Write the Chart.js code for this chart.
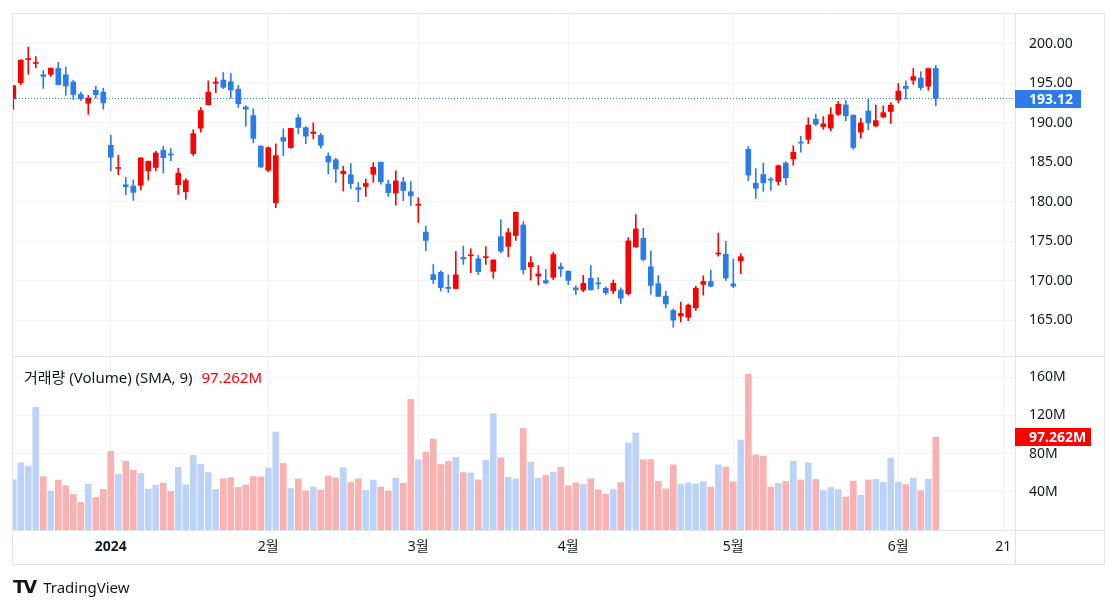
<!DOCTYPE html>
<html>
<head>
<meta charset="utf-8">
<script src="https://cdn.jsdelivr.net/npm/chart.js@4.4.1/dist/chart.umd.min.js"></script>
<style>
  html, body { margin: 0; padding: 0; background: #fff; width: 1118px; height: 609px; overflow: hidden; }
  #wrap { position: relative; width: 1118px; height: 609px; font-family: "Noto Sans", "Noto Sans CJK KR", sans-serif; color: #131722; }
  #priceCanvas { position: absolute; left: 0; top: 0; }
  #volCanvas { position: absolute; left: 0; top: 356px; }
  #legend { position: absolute; left: 24px; top: 367px; font-size: 15px; line-height: 20px; white-space: nowrap; }
  #legend .val { color: #ff0000; margin-left: 9px; }
  #logo { position: absolute; left: 13px; top: 576px; white-space: nowrap; line-height: 22px; }
  #logo .mark { font-family: "DejaVu Sans", sans-serif; font-weight: 900; font-size: 18px; letter-spacing: -2px; }
  #logo .name { font-size: 15px; margin-left: 8px; }
</style>
</head>
<body>
<div id="wrap">
  <canvas id="priceCanvas" width="1118" height="357"></canvas>
  <canvas id="volCanvas" width="1118" height="253"></canvas>
  <div id="legend">거래량 (Volume) (SMA, 9)<span class="val">97.262M</span></div>
  <div id="logo"><span class="mark">TV</span><span class="name">TradingView</span></div>
</div>
<script>
// daily bars, 2023-12-12 .. 2024-06-10
const dates = [
  '12-12','12-13','12-14','12-15','12-18','12-19','12-20','12-21','12-22','12-26','12-27','12-28','12-29',
  '01-02','01-03','01-04','01-05','01-08','01-09','01-10','01-11','01-12','01-16','01-17','01-18','01-19',
  '01-22','01-23','01-24','01-25','01-26','01-29','01-30','01-31',
  '02-01','02-02','02-05','02-06','02-07','02-08','02-09','02-12','02-13','02-14','02-15','02-16',
  '02-20','02-21','02-22','02-23','02-26','02-27','02-28','02-29',
  '03-01','03-04','03-05','03-06','03-07','03-08','03-11','03-12','03-13','03-14','03-15',
  '03-18','03-19','03-20','03-21','03-22','03-25','03-26','03-27','03-28',
  '04-01','04-02','04-03','04-04','04-05','04-08','04-09','04-10','04-11','04-12',
  '04-15','04-16','04-17','04-18','04-19','04-22','04-23','04-24','04-25','04-26','04-29','04-30',
  '05-01','05-02','05-03','05-06','05-07','05-08','05-09','05-10','05-13','05-14','05-15','05-16','05-17',
  '05-20','05-21','05-22','05-23','05-24','05-28','05-29','05-30','05-31',
  '06-03','06-04','06-05','06-06','06-07','06-10'
];
const openP = [
  193.08,195.09,198.02,197.53,196.09,196.16,196.90,196.10,195.18,193.61,192.49,194.14,193.90,
  187.15,184.22,182.15,181.99,182.09,183.92,184.35,186.54,186.06,182.16,181.27,186.09,189.33,
  192.30,195.02,195.42,195.22,194.27,192.01,190.94,187.04,
  183.99,179.86,188.15,186.86,190.64,189.39,188.65,188.42,185.77,185.32,183.55,183.42,
  181.79,181.94,183.48,185.01,182.24,181.10,182.51,181.27,
  179.55,176.15,170.76,171.06,169.15,169.00,172.94,173.15,172.77,172.91,171.17,
  175.57,174.34,175.72,177.05,171.76,170.57,170.00,170.41,171.75,
  171.19,169.08,168.79,170.29,169.59,169.03,168.70,168.80,168.34,174.26,
  175.36,171.75,169.61,168.03,166.21,165.52,165.35,166.54,169.53,169.88,173.37,173.33,
  169.58,172.51,186.65,182.35,183.45,182.85,182.56,184.90,185.44,187.51,187.91,190.47,189.51,
  189.33,191.09,192.27,190.98,188.82,191.51,189.61,190.76,191.44,
  192.90,194.64,195.40,195.69,194.65,196.90
];
const highP = [
  194.72,198.00,199.62,198.40,196.63,196.95,197.68,197.08,195.41,193.89,193.50,194.66,194.40,
  188.44,185.88,183.09,182.76,185.60,185.15,186.40,187.05,186.74,184.26,182.93,189.14,191.95,
  195.33,195.75,196.38,196.27,194.76,192.20,191.80,187.10,
  186.95,187.33,189.25,189.31,191.05,189.54,189.99,188.67,186.21,185.53,184.49,184.85,
  182.43,182.89,184.96,185.04,182.76,183.92,183.12,182.57,
  180.53,176.90,172.04,171.24,170.73,173.70,174.38,174.03,173.19,174.31,172.62,
  177.71,176.61,178.67,177.49,173.05,171.94,171.42,173.60,172.23,
  171.25,169.34,170.68,171.92,170.39,169.20,170.08,169.09,175.46,178.36,
  176.63,173.76,170.65,168.64,166.40,167.26,167.05,169.30,170.61,171.34,176.03,174.99,
  172.71,173.42,187.00,184.20,184.90,183.07,184.66,185.09,187.10,188.30,190.65,191.10,190.81,
  191.92,192.73,192.82,191.00,190.58,193.00,192.25,192.18,192.57,
  194.99,195.32,196.90,196.50,196.94,197.30
];
const lowP = [
  191.72,194.85,196.16,197.00,194.39,195.89,194.83,193.50,192.97,192.83,191.09,193.17,191.73,
  183.89,183.43,180.88,180.17,181.50,182.73,183.92,183.62,185.19,180.93,180.30,185.83,188.82,
  192.26,193.83,194.34,193.11,191.94,189.58,187.47,184.35,
  183.82,179.25,185.84,186.77,188.61,187.35,188.00,186.79,183.51,182.44,181.35,181.67,
  180.00,180.66,182.46,182.23,180.65,179.56,180.13,179.53,
  177.38,173.79,169.62,168.68,168.49,168.94,172.05,171.01,170.76,172.05,170.29,
  173.52,173.03,175.09,170.84,170.06,169.45,169.58,170.11,170.51,
  169.48,168.23,168.58,168.82,168.95,168.24,168.35,167.11,168.16,174.21,
  172.50,168.27,168.00,166.55,164.08,164.77,164.92,166.21,168.15,169.18,173.10,170.00,
  169.11,170.89,182.66,180.42,181.32,181.45,182.11,182.13,184.62,186.29,187.37,189.66,189.18,
  189.01,190.92,190.27,186.63,188.04,189.10,189.51,190.63,189.91,
  192.52,193.03,194.87,194.17,194.14,192.15
];
const closeP = [
  194.71,197.96,198.11,197.57,195.89,196.94,194.83,194.68,193.60,193.05,193.15,193.58,192.53,
  185.64,184.25,181.91,181.18,185.56,185.14,186.19,185.59,185.92,183.63,182.68,188.63,191.56,
  193.89,195.18,194.50,194.17,192.42,191.73,188.04,184.40,
  186.86,185.85,187.68,189.30,189.41,188.32,188.85,187.15,185.04,184.15,183.86,182.31,
  181.56,182.32,184.37,182.52,181.16,182.63,181.42,180.75,
  179.66,175.10,170.12,169.12,169.00,170.73,172.75,173.23,171.13,173.00,172.62,
  173.72,176.08,178.67,171.37,172.28,170.85,169.71,173.31,171.48,
  170.03,168.84,169.65,168.82,169.58,168.45,169.67,167.78,175.04,176.55,
  172.69,169.38,168.00,167.04,165.00,165.84,166.90,169.02,169.89,169.30,173.50,170.33,
  169.30,173.03,183.38,181.71,182.40,182.74,184.57,183.05,186.28,187.43,189.72,189.84,189.87,
  191.04,192.35,190.90,186.88,189.98,189.99,190.29,191.29,192.25,
  194.03,194.35,195.87,194.48,196.89,193.12
];
// volume, millions
const volume = [
  52.7,70.4,66.8,128.5,55.8,40.7,52.2,46.5,37.1,28.9,48.1,34.0,42.6,
  82.5,58.4,71.9,62.4,59.1,42.8,46.8,49.1,40.4,65.6,47.3,78.0,68.7,
  60.1,42.4,53.6,54.8,44.6,47.1,55.9,55.5,
  64.9,102.5,69.7,43.5,53.4,41.0,45.2,41.8,56.5,54.6,65.4,49.7,
  53.7,41.5,52.3,45.1,40.9,54.3,48.9,136.7,
  73.5,81.5,95.1,68.6,71.8,76.1,60.1,59.8,52.5,72.9,121.8,
  75.6,55.2,53.4,106.2,71.1,54.3,57.4,60.3,65.7,
  46.2,49.3,47.7,53.7,42.1,37.4,42.4,49.7,91.1,101.6,
  73.5,73.7,50.9,43.1,68.1,48.1,49.5,48.3,50.6,44.8,68.2,65.9,
  50.4,94.2,163.2,78.6,77.3,45.1,49.0,50.8,72.0,52.4,70.4,52.8,41.3,
  44.4,42.3,34.6,51.0,36.3,52.3,53.1,49.9,75.2,
  50.1,47.5,54.2,41.2,53.1,97.3
];
const tickIdx = [13, 34, 54, 74, 96, 118, 132];
const tickLabels = ['2024', '2월', '3월', '4월', '5월', '6월', '21'];
const priceTicks = [165, 170, 175, 180, 185, 190, 195, 200];
const volTicks = [40, 80, 120, 160];

const upColor = '#ff0000';
const downColor = '#2b7be9';
const volUp = '#bcd3f9';
const volDown = '#f9b1b1';
const gridColor = '#f0f3fa';
const lineColor = '#e0e3eb';
const font = '"Noto Sans", "Noto Sans CJK KR", sans-serif';
const textColor = '#131722';

const isUp = dates.map((d, i) => closeP[i] >= openP[i]);
const xMin = -0.04, xMax = 133.56;

function fixY(width) {
  return s => { s.width = width; s.paddingTop = 0; s.paddingBottom = 0; };
}

function hline(ctx, x1, x2, y) { ctx.beginPath(); ctx.moveTo(x1, y); ctx.lineTo(x2, y); ctx.stroke(); }
function vline(ctx, x, y1, y2) { ctx.beginPath(); ctx.moveTo(x, y1); ctx.lineTo(x, y2); ctx.stroke(); }

function badge(ctx, y, w, color, text) {
  ctx.fillStyle = color;
  ctx.fillRect(1015, Math.round(y) - 9, w, 18);
  ctx.fillStyle = '#fff';
  ctx.font = 'bold 14px ' + font;
  ctx.textAlign = 'left';
  ctx.textBaseline = 'middle';
  ctx.fillText(text, 1029, Math.round(y) + 1);
}

const pricePlugin = {
  id: 'priceExtras',
  afterDraw(chart) {
    const ctx = chart.ctx, a = chart.chartArea;
    const last = closeP[closeP.length - 1];
    const y = Math.round(chart.scales.y.getPixelForValue(last)) + 0.5;
    ctx.save();
    ctx.strokeStyle = downColor;
    ctx.lineWidth = 1;
    ctx.setLineDash([1, 2]);
    hline(ctx, a.left, a.right, y);
    ctx.setLineDash([]);
    ctx.strokeStyle = lineColor;
    hline(ctx, 12.5, 1104.5, 13.5);
    hline(ctx, 12.5, 1104.5, 356.5);
    vline(ctx, 12.5, 13, 357);
    vline(ctx, 1015.5, 13, 357);
    vline(ctx, 1104.5, 13, 357);
    badge(ctx, y, 66, downColor, last.toFixed(2));
    ctx.restore();
  }
};

const volPlugin = {
  id: 'volExtras',
  afterDraw(chart) {
    const ctx = chart.ctx;
    const y = chart.scales.y.getPixelForValue(97.262);
    ctx.save();
    ctx.strokeStyle = lineColor;
    ctx.lineWidth = 1;
    vline(ctx, 12.5, 0, 208.5);
    vline(ctx, 1015.5, 0, 208.5);
    vline(ctx, 1104.5, 0, 208.5);
    hline(ctx, 12.5, 1104.5, 174.5);
    hline(ctx, 12.5, 1104.5, 208.5);
    badge(ctx, y, 76, upColor, '97.262M');
    ctx.restore();
  }
};

new Chart(document.getElementById('priceCanvas'), {
  type: 'bar',
  data: {
    labels: dates,
    datasets: [
      {
        label: 'wick',
        data: dates.map((d, i) => ({ x: i, y: [lowP[i], highP[i]] })),
        backgroundColor: isUp.map(u => u ? upColor : downColor),
        barThickness: 1,
        grouped: false
      },
      {
        label: 'body',
        data: dates.map((d, i) => ({ x: i, y: [openP[i], closeP[i]] })),
        backgroundColor: isUp.map(u => u ? upColor : downColor),
        barThickness: 5,
        minBarLength: 1,
        grouped: false
      }
    ]
  },
  options: {
    responsive: false,
    animation: false,
    devicePixelRatio: 1,
    layout: { padding: { left: 13, top: 13, right: 14, bottom: 1 } },
    plugins: { legend: { display: false }, tooltip: { enabled: false } },
    scales: {
      x: {
        type: 'linear', min: xMin, max: xMax, offset: false,
        grid: { color: gridColor, drawTicks: false, offset: false },
        border: { display: false },
        ticks: { display: false },
        afterBuildTicks: s => { s.ticks = tickIdx.map(v => ({ value: v })); },
        afterFit: s => { s.height = 0; s.paddingLeft = 0; s.paddingRight = 0; }
      },
      y: {
        position: 'right', min: 160.44, max: 203.93, beginAtZero: false,
        grid: { color: gridColor, drawTicks: false },
        border: { display: false },
        ticks: {
          padding: 14, color: textColor, font: { family: font, size: 14 },
          callback: v => v.toFixed(2)
        },
        afterBuildTicks: s => { s.ticks = priceTicks.map(v => ({ value: v })); },
        afterFit: fixY(89)
      }
    }
  },
  plugins: [pricePlugin]
});

new Chart(document.getElementById('volCanvas'), {
  type: 'bar',
  data: {
    labels: dates,
    datasets: [{
      label: 'volume',
      data: dates.map((d, i) => ({ x: i, y: volume[i] })),
      backgroundColor: isUp.map(u => u ? volUp : volDown),
      barThickness: 6
    }]
  },
  options: {
    responsive: false,
    animation: false,
    devicePixelRatio: 1,
    layout: { padding: { left: 13, top: 1, right: 14, bottom: 44 } },
    plugins: { legend: { display: false }, tooltip: { enabled: false } },
    scales: {
      x: {
        type: 'linear', min: xMin, max: xMax, offset: false,
        grid: { color: gridColor, drawTicks: false, offset: false },
        border: { display: false },
        ticks: {
          padding: 8, color: textColor, autoSkip: false, maxRotation: 0,
          font: c => ({ family: font, size: 14, weight: c.tick && c.tick.value === 13 ? 'bold' : 'normal' }),
          callback: v => tickLabels[tickIdx.indexOf(v)]
        },
        afterBuildTicks: s => { s.ticks = tickIdx.map(v => ({ value: v })); },
        afterFit: s => { s.height = 34; s.paddingLeft = 0; s.paddingRight = 0; }
      },
      y: {
        position: 'right', min: -1.05, max: 181.05,
        grid: { color: gridColor, drawTicks: false },
        border: { display: false },
        ticks: {
          padding: 14, color: textColor, font: { family: font, size: 14 },
          callback: v => v + 'M'
        },
        afterBuildTicks: s => { s.ticks = volTicks.map(v => ({ value: v })); },
        afterFit: fixY(89)
      }
    }
  },
  plugins: [volPlugin]
});
</script>
</body>
</html>
